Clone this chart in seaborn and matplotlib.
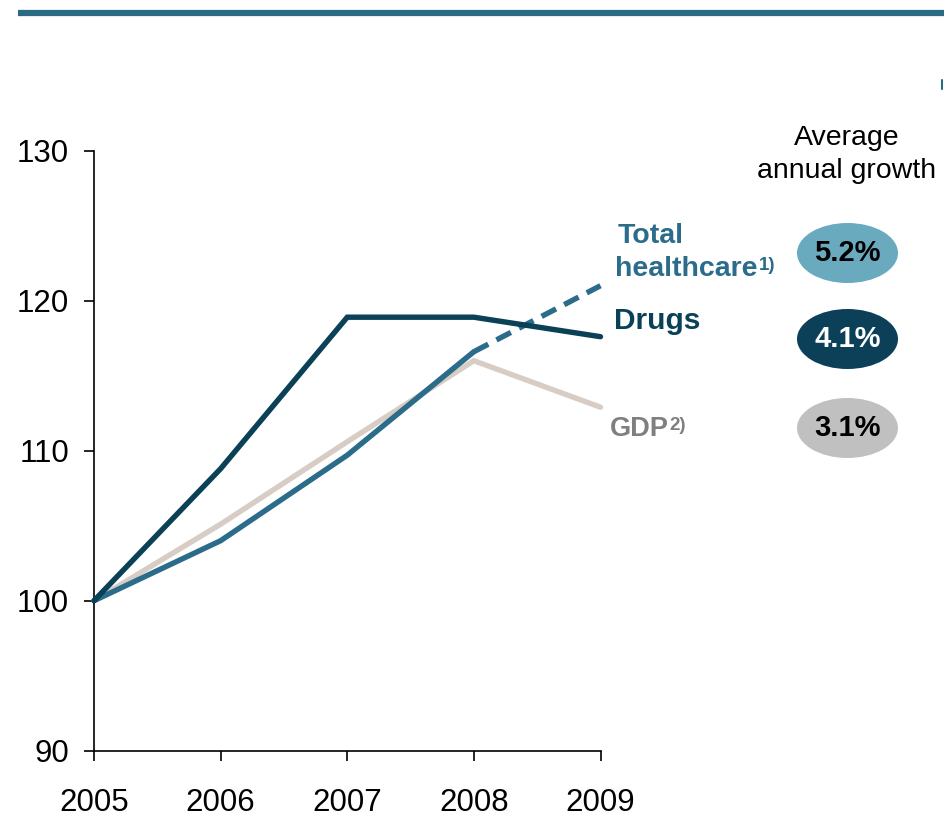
import matplotlib
matplotlib.use("Agg")
import matplotlib.pyplot as plt
from matplotlib.patches import Ellipse
from matplotlib.lines import Line2D
import pandas as pd
import seaborn as sns

sns.set_theme(style="white")
plt.rcParams["font.family"] = ["Liberation Sans", "DejaVu Sans"]

# Index values, 2005 = 100
years = [2005, 2006, 2007, 2008, 2009]
drugs = [100, 108.8, 118.9, 118.9, 117.6]
total_healthcare = [100, 104.0, 109.7, 116.6]
total_healthcare_est_years = [2008, 2009]
total_healthcare_est = [116.6, 121.0]
gdp = [100, 105.1, 110.6, 116.0, 112.9]

growth_labels = ["5.2%", "4.1%", "3.1%"]
yticks = [90, 100, 110, 120, 130]

C_DRUGS = "#0b4157"
C_TOTAL = "#2a6c8a"
C_GDP = "#d8cdc4"
C_GDP_TXT = "#7f7f7f"

df = pd.concat([
    pd.DataFrame({"year": years, "index": gdp, "series": "GDP"}),
    pd.DataFrame({"year": years[:4], "index": total_healthcare, "series": "Total healthcare"}),
    pd.DataFrame({"year": years, "index": drugs, "series": "Drugs"}),
])

fig = plt.figure(figsize=(9.44, 8.17), dpi=100)
ax = fig.add_axes([94 / 944, (817 - 750.7) / 817, 506.5 / 944, 600 / 817])

LW = 3.9
sns.lineplot(data=df, x="year", y="index", hue="series",
             palette={"GDP": C_GDP, "Total healthcare": C_TOTAL, "Drugs": C_DRUGS},
             hue_order=["GDP", "Total healthcare", "Drugs"],
             linewidth=LW, legend=False, ax=ax, clip_on=False,
             solid_capstyle="round", solid_joinstyle="miter")
sns.lineplot(x=total_healthcare_est_years, y=total_healthcare_est, color=C_TOTAL,
             linewidth=LW, ax=ax, clip_on=False)
ax.lines[-1].set_linestyle((0, (3.0, 1.7)))
# keep the Drugs line on top
for ln in ax.lines:
    if ln.get_color() == C_DRUGS:
        ln.set_zorder(5)

ax.set_xlim(2005, 2009)
ax.set_ylim(90, 130)
ax.set_xticks(years)
ax.set_yticks(yticks)
ax.set_xlabel("")
ax.set_ylabel("")
for s in ["top", "right"]:
    ax.spines[s].set_visible(False)
for s in ["left", "bottom"]:
    ax.spines[s].set_color("black")
    ax.spines[s].set_linewidth(1.2)
ax.tick_params(axis="both", which="major", direction="out", length=7, width=1.2,
               color="black", labelcolor="black")
ax.tick_params(axis="y", pad=11, left=True, labelsize=22.5)
ax.tick_params(axis="x", pad=20, bottom=True, labelsize=22.5)

# header rule and small marker
fig.add_artist(Line2D([18 / 944, 1.0], [1 - 13 / 817] * 2, color="#2b6a85", lw=4.5,
                      solid_capstyle="butt"))
fig.add_artist(Line2D([942 / 944] * 2, [1 - 80 / 817, 1 - 89 / 817], color="#2b6a85", lw=1.5))


def fx(px):
    return px / 944


def fy(py):
    return 1 - py / 817


fig.text(fx(847), fy(138), "Average", ha="center", va="center", fontsize=20.5, color="black")
fig.text(fx(847), fy(171), "annual growth", ha="center", va="center", fontsize=20.5,
         color="black")

fig.text(fx(618), fy(236), "Total", ha="left", va="center", fontsize=20.5,
         fontweight="bold", color=C_TOTAL)
hc = fig.text(fx(615), fy(269), "healthcare", ha="left", va="center", fontsize=20.5,
              fontweight="bold", color=C_TOTAL)
fig.text(fx(614), fy(321), "Drugs", ha="left", va="center", fontsize=21.5,
         fontweight="bold", color=C_DRUGS)
gd = fig.text(fx(610), fy(429), "GDP", ha="left", va="center", fontsize=19.5,
              fontweight="bold", color=C_GDP_TXT)

# footnote markers placed right after their labels
fig.canvas.draw()
for base, mark, col in [(hc, "1)", C_TOTAL), (gd, "2)", C_GDP_TXT)]:
    bb = base.get_window_extent()
    fig.text((bb.x1 + 1) / fig.bbox.width, (bb.y1 - 1) / fig.bbox.height, mark,
             fontsize=13.5, fontweight="bold", color=col, ha="left", va="top")

bubbles = [(253, "#6aaabf", "black"), (339, "#0b4058", "white"), (428, "#c0c0c0", "black")]
for (cy, fc, tc), lab in zip(bubbles, growth_labels):
    e = Ellipse((fx(847.5), fy(cy)), width=101 / 944, height=60 / 817,
                transform=fig.transFigure, facecolor=fc, edgecolor="none")
    fig.add_artist(e)
    fig.text(fx(847.5), fy(cy), lab, ha="center", va="center", fontsize=21,
             fontweight="bold", color=tc)

fig.savefig("out.png", dpi=100)
